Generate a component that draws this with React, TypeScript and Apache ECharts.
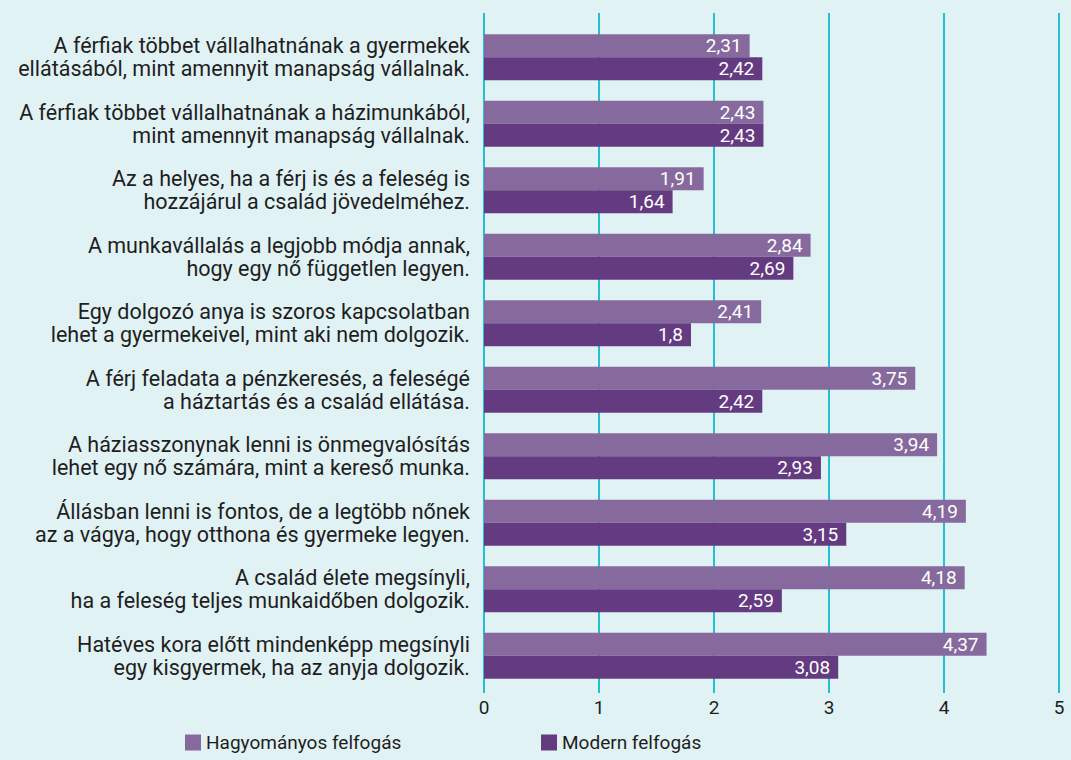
import React, { useEffect, useRef } from "react";
import * as echarts from "echarts";

const categories: string[] = [
  "A férfiak többet vállalhatnának a gyermekek\nellátásából, mint amennyit manapság vállalnak.",
  "A férfiak többet vállalhatnának a házimunkából,\nmint amennyit manapság vállalnak.",
  "Az a helyes, ha a férj is és a feleség is\nhozzájárul a család jövedelméhez.",
  "A munkavállalás a legjobb módja annak,\nhogy egy nő független legyen.",
  "Egy dolgozó anya is szoros kapcsolatban\nlehet a gyermekeivel, mint aki nem dolgozik.",
  "A férj feladata a pénzkeresés, a feleségé\na háztartás és a család ellátása.",
  "A háziasszonynak lenni is önmegvalósítás\nlehet egy nő számára, mint a kereső munka.",
  "Állásban lenni is fontos, de a legtöbb nőnek\naz a vágya, hogy otthona és gyermeke legyen.",
  "A család élete megsínyli,\nha a feleség teljes munkaidőben dolgozik.",
  "Hatéves kora előtt mindenképp megsínyli\negy kisgyermek, ha az anyja dolgozik.",
];

const seriesNames: string[] = ["Hagyományos felfogás", "Modern felfogás"];
const traditional: number[] = [2.31, 2.43, 1.91, 2.84, 2.41, 3.75, 3.94, 4.19, 4.18, 4.37];
const modern: number[] = [2.42, 2.43, 1.64, 2.69, 1.8, 2.42, 2.93, 3.15, 2.59, 3.08];
const xMin = 0;
const xMax = 5;
const xInterval = 1;

const FONT = "Roboto, sans-serif";
const TEXT = "#1e1e1e";
const GRID = "#22C0D0";
const C1 = "#866A9E";
const C2 = "#643A80";

export default function App() {
  const ref = useRef<HTMLDivElement>(null);
  useEffect(() => {
    document.body.style.margin = "0";
    const chart = echarts.init(ref.current!, null, { renderer: "svg" });
    const fmt = (p: any) => String(p.value).replace(".", ",");
    const valueLabel = {
      show: true,
      position: "insideRight",
      distance: 8,
      color: "#ffffff",
      fontSize: 19,
      fontFamily: FONT,
      formatter: fmt,
    };
    const legendText = { color: TEXT, fontSize: 19, lineHeight: 19, fontFamily: FONT };
    chart.setOption({
      animation: false,
      backgroundColor: "#E1F2F5",
      textStyle: { fontFamily: FONT },
      grid: [
        { left: 484, right: 12, top: 24, height: 665, containLabel: false },
        { left: 484, right: 12, top: 13, height: 680, containLabel: false },
      ],
      xAxis: [
        {
          type: "value",
          gridIndex: 0,
          min: xMin,
          max: xMax,
          interval: xInterval,
          axisLine: { show: false },
          axisTick: { show: false },
          splitLine: { show: false },
          axisLabel: { color: TEXT, fontSize: 19, fontFamily: FONT, margin: 9 },
        },
        {
          type: "value",
          gridIndex: 1,
          min: xMin,
          max: xMax,
          interval: xInterval,
          axisLine: { show: false },
          axisTick: { show: false },
          axisLabel: { show: false },
          splitLine: { show: true, lineStyle: { color: GRID, width: 2 } },
        },
      ],
      yAxis: [
        {
          type: "category",
          gridIndex: 0,
          data: categories,
          inverse: true,
          axisLine: { show: false },
          axisTick: { show: false },
          axisLabel: {
            color: TEXT,
            fontSize: 21.5,
            fontFamily: FONT,
            lineHeight: 23,
            align: "right",
            margin: 14,
          },
        },
        {
          type: "category",
          gridIndex: 1,
          data: categories,
          show: false,
        },
      ],
      legend: [
        {
          data: [seriesNames[0]],
          left: 185,
          top: 733,
          padding: 0,
          itemWidth: 16,
          itemHeight: 16,
          itemGap: 7,
          icon: "rect",
          textStyle: legendText,
        },
        {
          data: [seriesNames[1]],
          left: 541,
          top: 733,
          padding: 0,
          itemWidth: 16,
          itemHeight: 16,
          icon: "rect",
          textStyle: legendText,
        },
      ],
      series: [
        {
          name: seriesNames[0],
          type: "bar",
          xAxisIndex: 0,
          yAxisIndex: 0,
          data: traditional,
          barWidth: 23,
          barGap: "0%",
          itemStyle: { color: C1 },
          label: valueLabel,
        },
        {
          name: seriesNames[1],
          type: "bar",
          xAxisIndex: 0,
          yAxisIndex: 0,
          data: modern,
          barWidth: 23,
          barGap: "0%",
          itemStyle: { color: C2 },
          label: valueLabel,
        },
      ],
    });
    return () => chart.dispose();
  }, []);
  return (
    <div
      ref={ref}
      style={{ position: "absolute", left: 0, top: 0, width: 1071, height: 760 }}
    />
  );
}
